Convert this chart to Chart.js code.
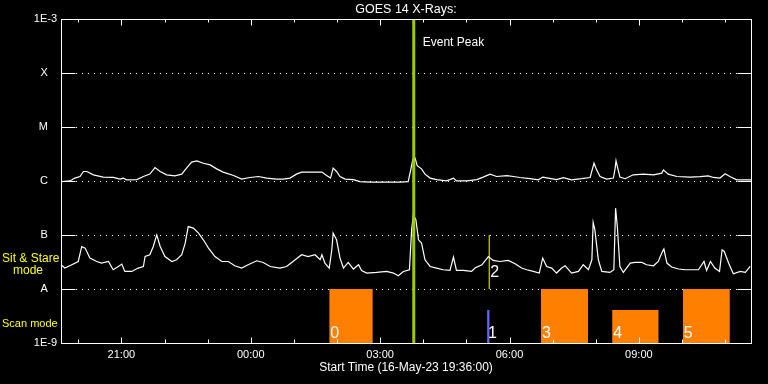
<!DOCTYPE html>
<html>
<head>
<meta charset="utf-8">
<script src="https://cdn.jsdelivr.net/npm/chart.js@4/dist/chart.umd.min.js"></script>
<style>
  html, body { margin: 0; padding: 0; background: #000; }
  #wrap { width: 768px; height: 384px; }
</style>
</head>
<body>
<div id="wrap"><canvas id="goesChart" width="768" height="384"></canvas></div>
<script>
// Time axis: hours after start (16-May-23 19:36:00)
const xTickHours = [1.4, 4.4, 7.4, 10.4, 13.4];
const xTickLabels = ['21:00', '00:00', '03:00', '06:00', '09:00'];
const yTickValues = [1e-9, 1e-8, 1e-7, 1e-6, 1e-5, 1e-4, 1e-3];
const yTickLabels = ['1E-9', 'A', 'B', 'C', 'M', 'X', '1E-3'];

// GOES 14 long channel (1-8 A)
const longHours = [0, 0.21, 0.32, 0.44, 0.52, 0.60, 0.75, 0.98, 1.21, 1.37,
  1.44, 1.52, 1.76, 1.91, 2.06, 2.18, 2.30, 2.45, 2.64, 2.80,
  2.91, 3.03, 3.15, 3.30, 3.46, 3.61, 3.76, 4.00, 4.19, 4.38,
  4.58, 4.77, 5.00, 5.15, 5.31, 5.46, 5.58, 5.85, 6.05, 6.16,
  6.25, 6.31, 6.39, 6.47, 6.59, 6.78, 6.93, 7.17, 7.47, 7.86,
  8.05, 8.11, 8.16, 8.21, 8.26, 8.36, 8.44, 8.56, 8.71, 8.94,
  9.10, 9.17, 9.41, 9.64, 9.79, 9.95, 10.10, 10.34, 10.49, 10.64,
  10.88, 11.07, 11.17, 11.30, 11.49, 11.65, 11.84, 12.07, 12.27, 12.31,
  12.36, 12.42, 12.50, 12.65, 12.81, 12.85, 12.87, 12.91, 12.96, 13.08,
  13.27, 13.50, 13.74, 13.93, 13.97, 14.08, 14.28, 14.59, 14.82, 15.01,
  15.13, 15.28, 15.40, 15.51, 15.67, 16.0];
const longFlux = [0.98e-6, 1.01e-6, 1.14e-6, 1.22e-6, 1.51e-6, 1.51e-6, 1.31e-6, 1.19e-6, 1.17e-6, 1.09e-6,
  1.14e-6, 1.06e-6, 1.07e-6, 1.22e-6, 1.35e-6, 1.79e-6, 1.51e-6, 1.31e-6, 1.25e-6, 1.35e-6,
  1.74e-6, 2.25e-6, 2.38e-6, 2.15e-6, 2.0e-6, 1.69e-6, 1.47e-6, 1.27e-6, 1.09e-6, 1.17e-6,
  1.22e-6, 1.14e-6, 1.09e-6, 1.09e-6, 1.14e-6, 1.35e-6, 1.47e-6, 1.47e-6, 1.47e-6, 1.27e-6,
  1.14e-6, 1.74e-6, 1.51e-6, 1.22e-6, 1.09e-6, 1.07e-6, 0.98e-6, 0.96e-6, 0.96e-6, 0.96e-6,
  0.98e-6, 1.62e-6, 2.59e-6, 2.67e-6, 1.94e-6, 1.69e-6, 1.35e-6, 1.14e-6, 1.07e-6, 1.01e-6,
  1.14e-6, 1.01e-6, 1.01e-6, 1.07e-6, 1.19e-6, 1.35e-6, 1.22e-6, 1.27e-6, 1.22e-6, 1.17e-6,
  1.11e-6, 1.06e-6, 1.19e-6, 1.14e-6, 1.07e-6, 1.16e-6, 1.06e-6, 1.11e-6, 1.17e-6, 1.55e-6,
  2.15e-6, 1.62e-6, 1.22e-6, 1.09e-6, 1.14e-6, 1.74e-6, 2.38e-6, 1.74e-6, 1.19e-6, 1.11e-6,
  1.31e-6, 1.35e-6, 1.31e-6, 1.41e-6, 1.62e-6, 1.35e-6, 1.22e-6, 1.19e-6, 1.21e-6, 1.25e-6,
  1.17e-6, 1.14e-6, 1.37e-6, 1.22e-6, 1.06e-6, 1.06e-6];

// GOES 14 short channel (0.5-4 A)
const shortHours = [0, 0.09, 0.25, 0.40, 0.48, 0.56, 0.67, 0.83, 0.94, 1.10,
  1.21, 1.33, 1.41, 1.48, 1.64, 1.79, 1.91, 1.95, 2.06, 2.14,
  2.22, 2.30, 2.41, 2.57, 2.68, 2.80, 2.88, 2.95, 3.07, 3.19,
  3.30, 3.42, 3.57, 3.73, 3.88, 4.03, 4.19, 4.34, 4.54, 4.69,
  4.85, 5.08, 5.23, 5.35, 5.43, 5.58, 5.73, 5.89, 6.01, 6.05,
  6.12, 6.22, 6.28, 6.31, 6.39, 6.47, 6.55, 6.66, 6.78, 6.90,
  6.97, 7.09, 7.32, 7.55, 7.71, 7.82, 7.94, 8.08, 8.13, 8.17,
  8.23, 8.29, 8.36, 8.44, 8.56, 8.71, 8.86, 9.02, 9.10, 9.17,
  9.33, 9.52, 9.60, 9.76, 9.91, 10.02, 10.18, 10.37, 10.53, 10.68,
  10.80, 10.95, 11.09, 11.17, 11.26, 11.38, 11.49, 11.61, 11.69, 11.84,
  12.00, 12.11, 12.23, 12.31, 12.34, 12.38, 12.46, 12.54, 12.73, 12.82,
  12.86, 12.90, 12.96, 13.04, 13.20, 13.31, 13.47, 13.58, 13.74, 13.85,
  13.93, 13.98, 14.05, 14.16, 14.32, 14.47, 14.62, 14.78, 14.91, 14.97,
  15.06, 15.16, 15.27, 15.33, 15.38, 15.48, 15.59, 15.75, 15.87, 15.98];
const shortFlux = [2.82e-8, 2.45e-8, 2.82e-8, 3.24e-8, 6.15e-8, 5.74e-8, 3.75e-8, 3.24e-8, 3.03e-8, 3.24e-8,
  2.28e-8, 2.62e-8, 2.90e-8, 2.12e-8, 2.12e-8, 2.45e-8, 2.62e-8, 4.01e-8, 4.32e-8, 6.15e-8,
  10.1e-8, 6.15e-8, 4.01e-8, 3.24e-8, 3.49e-8, 4.32e-8, 7.11e-8, 14.4e-8, 13.5e-8, 10.9e-8,
  8.18e-8, 5.74e-8, 4.01e-8, 3.24e-8, 3.24e-8, 2.70e-8, 2.45e-8, 2.82e-8, 3.34e-8, 3.11e-8,
  2.62e-8, 2.45e-8, 2.62e-8, 3.11e-8, 3.49e-8, 4.32e-8, 4.01e-8, 4.32e-8, 3.49e-8, 4.32e-8,
  3.03e-8, 2.45e-8, 5.34e-8, 10.9e-8, 8.18e-8, 3.75e-8, 2.45e-8, 3.11e-8, 2.35e-8, 2.82e-8,
  2.21e-8, 1.98e-8, 2.03e-8, 2.12e-8, 1.98e-8, 1.76e-8, 2.12e-8, 2.28e-8, 12.5e-8, 23.8e-8,
  19.2e-8, 8.18e-8, 7.11e-8, 3.49e-8, 2.62e-8, 2.45e-8, 2.28e-8, 2.21e-8, 3.91e-8, 2.21e-8,
  2.21e-8, 2.12e-8, 2.45e-8, 2.82e-8, 4.01e-8, 3.39e-8, 3.24e-8, 3.39e-8, 2.94e-8, 2.45e-8,
  2.28e-8, 2.12e-8, 1.98e-8, 3.75e-8, 2.62e-8, 2.45e-8, 1.98e-8, 2.45e-8, 2.70e-8, 1.98e-8,
  2.12e-8, 2.82e-8, 2.28e-8, 3.49e-8, 17.1e-8, 12.5e-8, 3.49e-8, 2.12e-8, 2.03e-8, 2.28e-8,
  31.6e-8, 14.4e-8, 2.62e-8, 2.03e-8, 3.03e-8, 3.11e-8, 3.11e-8, 2.82e-8, 2.70e-8, 3.24e-8,
  4.64e-8, 5.51e-8, 3.03e-8, 2.56e-8, 2.35e-8, 2.28e-8, 2.28e-8, 2.28e-8, 3.24e-8, 2.21e-8,
  3.24e-8, 2.45e-8, 2.12e-8, 5.34e-8, 4.97e-8, 3.03e-8, 1.92e-8, 2.12e-8, 2.03e-8, 2.62e-8];

// Event peak and observations (hours after start)
const eventPeak = 8.18;
const obsLabels = ['0', '1', '2', '3', '4', '5'];
const obsMode = ['scan', 'scan', 'sit', 'scan', 'scan', 'scan'];
const obsStart = [6.22, 9.88, 9.93, 11.13, 12.78, 14.42];
const obsEnd = [7.23, 9.94, 9.93, 12.22, 13.86, 15.51];
const obsTop = [1e-8, 4.1e-9, 1e-7, 1e-8, 4.1e-9, 1e-8];
const obsBottom = [1e-9, 1e-9, 1e-8, 1e-9, 1e-9, 1e-9];

// styles
const FONT = '"Liberation Sans", Arial, sans-serif';
const obsColors = ['#ff8000', '#6464ff', '#ffff00', '#ff8000', '#ff8000', '#ff8000'];

function px(v) { return Math.round(v) + 0.5; }

const goesFrame = {
    id: 'goesFrame',
    beforeDraw(chart) {
        const ctx = chart.ctx;
        ctx.save();
        ctx.fillStyle = '#000';
        ctx.fillRect(0, 0, chart.width, chart.height);
        ctx.restore();
    },
    beforeDatasetsDraw(chart) {
        const { ctx, chartArea: a, scales: { y } } = chart;
        ctx.save();
        ctx.strokeStyle = '#fff';
        ctx.lineWidth = 1;
        ctx.setLineDash([1, 5]);
        yTickValues.slice(1, -1).forEach(v => {
            const yy = px(y.getPixelForValue(v));
            ctx.beginPath();
            ctx.moveTo(Math.round(a.left) + 15, yy);
            ctx.lineTo(Math.round(a.right) - 14, yy);
            ctx.stroke();
        });
        ctx.restore();
    },
    afterDatasetsDraw(chart) {
        const { ctx, chartArea: a, scales: { x, y } } = chart;
        const L = px(a.left), R = px(a.right), T = px(a.top), B = px(a.bottom);
        ctx.save();
        ctx.strokeStyle = '#fff';
        ctx.lineWidth = 1;
        ctx.strokeRect(L, T, R - L, B - T);

        // inward y ticks
        ctx.beginPath();
        yTickValues.forEach(v => {
            const yy = px(y.getPixelForValue(v));
            ctx.moveTo(L, yy); ctx.lineTo(L + 14, yy);
            ctx.moveTo(R - 14, yy); ctx.lineTo(R, yy);
        });
        // inward x ticks, major every 3 h, minor every hour
        for (let h = xTickHours[0] % 1; h < x.max; h += 1) {
            const major = xTickHours.some(t => Math.abs(t - h) < 1e-6);
            const xx = px(x.getPixelForValue(h));
            ctx.moveTo(xx, B); ctx.lineTo(xx, B - (major ? 6 : 4));
            ctx.moveTo(xx, T); ctx.lineTo(xx, T + (major ? 6 : 3));
        }
        ctx.stroke();

        // Event peak label
        ctx.fillStyle = '#fff';
        ctx.font = '12px ' + FONT;
        ctx.textBaseline = 'middle';
        ctx.textAlign = 'left';
        ctx.fillText('Event Peak', x.getPixelForValue(eventPeak) + 9, a.top + 23);

        // observation numbers
        ctx.font = '16px ' + FONT;
        ctx.textBaseline = 'alphabetic';
        obsLabels.forEach((lab, i) => {
            const xx = x.getPixelForValue(obsStart[i]) + 1;
            const yy = obsMode[i] === 'scan'
                ? y.getPixelForValue(obsBottom[i]) - 5
                : y.getPixelForValue(obsBottom[i]) - 12;
            ctx.fillText(lab, xx, yy);
        });

        // mode labels in the left margin
        const yA = y.getPixelForValue(1e-8);
        const yMin = y.getPixelForValue(1e-9);
        ctx.fillStyle = '#ffff00';
        ctx.font = '12px ' + FONT;
        ctx.textBaseline = 'middle';
        ctx.fillText('Sit & Stare', 2, yA - 30);
        ctx.fillText('mode', 13, yA - 18);
        ctx.font = '11px ' + FONT;
        ctx.fillText('Scan mode', 2, yMin - 19);
        ctx.restore();
    }
};

const datasets = [];
datasets.push({
    data: [{ x: eventPeak, y: 1e-9 }, { x: eventPeak, y: 1e-3 }],
    borderColor: '#99cc00', borderWidth: 3, pointRadius: 0
});
datasets.push({
    data: longHours.map((h, i) => ({ x: h, y: longFlux[i] })),
    borderColor: '#ffffff', borderWidth: 1.2, pointRadius: 0
});
datasets.push({
    data: shortHours.map((h, i) => ({ x: h, y: shortFlux[i] })),
    borderColor: '#ffffff', borderWidth: 1.2, pointRadius: 0
});
obsLabels.forEach((lab, i) => {
    if (obsMode[i] === 'sit') {
        datasets.push({
            data: [{ x: obsStart[i], y: obsBottom[i] }, { x: obsStart[i], y: obsTop[i] }],
            borderColor: obsColors[i], borderWidth: 1, pointRadius: 0
        });
    } else {
        datasets.push({
            data: [{ x: obsStart[i], y: obsTop[i] }, { x: obsEnd[i], y: obsTop[i] }],
            borderWidth: 0, pointRadius: 0,
            fill: 'start', backgroundColor: obsColors[i]
        });
    }
});

const ctx = document.getElementById('goesChart').getContext('2d');
const goesChart = new Chart(ctx, {
    type: 'line',
    data: { datasets: datasets },
    options: {
        responsive: false,
        animation: false,
        devicePixelRatio: 1,
        layout: { padding: { top: 0, right: 17, left: 0, bottom: 0 } },
        elements: { line: { tension: 0 } },
        plugins: {
            legend: { display: false },
            tooltip: { enabled: false },
            title: {
                display: true,
                text: 'GOES 14 X-Rays:',
                color: '#fff',
                fullSize: false,
                font: { family: FONT, size: 12.5, weight: 'normal' },
                padding: { top: 2, bottom: 2.3 }
            }
        },
        scales: {
            x: {
                type: 'linear', min: 0, max: 16,
                afterBuildTicks: s => { s.ticks = xTickHours.map(v => ({ value: v })); },
                afterFit: s => { s.height = 41; },
                ticks: {
                    color: '#fff', font: { family: FONT, size: 11 }, padding: 5,
                    maxRotation: 0, autoSkip: false,
                    callback: (v, i) => xTickLabels[i]
                },
                grid: { display: false, drawTicks: false },
                border: { display: false },
                title: {
                    display: true, text: 'Start Time (16-May-23 19:36:00)', color: '#fff',
                    font: { family: FONT, size: 12 }, padding: { top: 0, bottom: 9 }
                }
            },
            y: {
                type: 'logarithmic', min: 1e-9, max: 1e-3,
                afterBuildTicks: s => { s.ticks = yTickValues.map(v => ({ value: v })); },
                afterFit: s => { s.width = 61; },
                ticks: {
                    color: '#fff', font: { family: FONT, size: 11 }, padding: 4, autoSkip: false,
                    callback: (v, i) => yTickLabels[i].length === 1 ? yTickLabels[i] + '   ' : yTickLabels[i]
                },
                grid: { display: false, drawTicks: false },
                border: { display: false }
            }
        }
    },
    plugins: [goesFrame]
});
</script>
</body>
</html>
